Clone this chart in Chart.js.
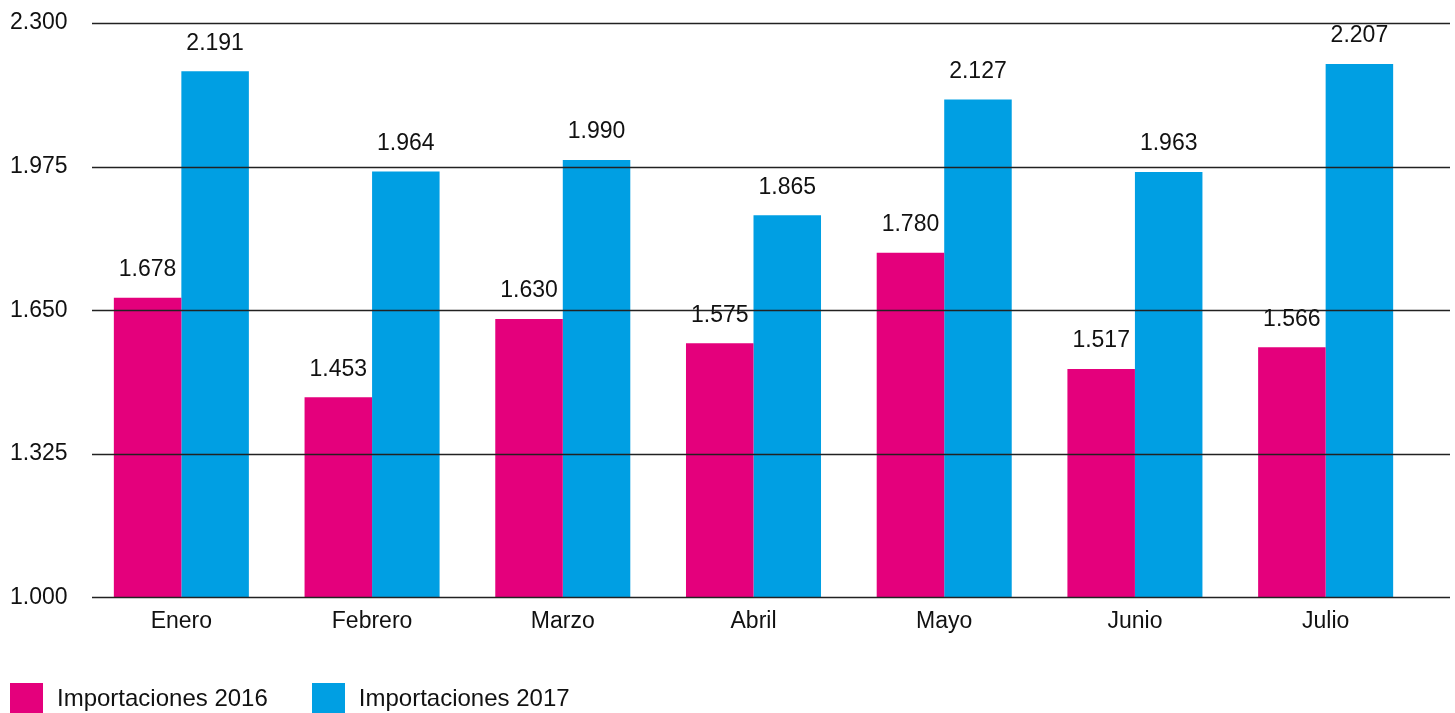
<!DOCTYPE html>
<html lang="es">
<head>
<meta charset="utf-8">
<title>Importaciones 2016 - 2017</title>
<script src="https://cdn.jsdelivr.net/npm/chart.js@4/dist/chart.umd.min.js"></script>
<style>
    html, body { margin: 0; padding: 0; background: #fff; }
    #wrap { position: relative; width: 1455px; height: 713px; }
    #legend {
        position: absolute; left: 10px; top: 683px;
        display: flex; align-items: center;
        font-family: "Liberation Sans", Arial, sans-serif; font-size: 24px; color: #111;
    }
    .item { display: flex; align-items: center; }
    .item + .item { margin-left: 44px; }
    .box { width: 33px; height: 30px; margin-right: 14px; }
    .item span { line-height: 30px; }
</style>
</head>
<body>
<div id="wrap">
    <canvas id="grafico" width="1455" height="713"></canvas>
    <div id="legend"></div>
</div>
<script>
// Data
const meses = ['Enero', 'Febrero', 'Marzo', 'Abril', 'Mayo', 'Junio', 'Julio'];
const importaciones2016 = [1678, 1453, 1630, 1575, 1780, 1517, 1566];
const importaciones2017 = [2191, 1964, 1990, 1865, 2127, 1963, 2207];
const series = ['Importaciones 2016', 'Importaciones 2017'];
const colores = ['#e4007c', '#009fe3'];

const fuente = '"Liberation Sans", Arial, sans-serif';

// 1678 -> "1.678"
function formato(n) {
    return String(n).replace(/\B(?=(\d{3})+(?!\d))/g, '.');
}

// Grid lines over the bars + value labels above them
const extrasPlugin = {
    id: 'extras',
    afterDatasetsDraw(chart) {
        const ctx = chart.ctx;
        const yScale = chart.scales.y;
        ctx.save();
        ctx.strokeStyle = '#222';
        ctx.lineWidth = 1.4;
        yScale.ticks.forEach(t => {
            const y = Math.round(yScale.getPixelForValue(t.value)) + 0.5;
            ctx.beginPath();
            ctx.moveTo(chart.chartArea.left + 6, y);
            ctx.lineTo(chart.width - 5, y);
            ctx.stroke();
        });

        ctx.fillStyle = '#111';
        ctx.font = '23px ' + fuente;
        ctx.textAlign = 'center';
        ctx.textBaseline = 'middle';
        chart.data.datasets.forEach((ds, i) => {
            chart.getDatasetMeta(i).data.forEach((bar, j) => {
                ctx.fillText(formato(ds.data[j]), bar.x, bar.y - 28);
            });
        });
        ctx.restore();
    }
};

const ctx = document.getElementById('grafico').getContext('2d');
const grafico = new Chart(ctx, {
    type: 'bar',
    data: {
        labels: meses,
        datasets: [
            {
                label: series[0],
                data: importaciones2016,
                backgroundColor: colores[0],
                categoryPercentage: 0.708,
                barPercentage: 1
            },
            {
                label: series[1],
                data: importaciones2017,
                backgroundColor: colores[1],
                categoryPercentage: 0.708,
                barPercentage: 1
            }
        ]
    },
    options: {
        responsive: false,
        animation: false,
        layout: {
            padding: { top: 23, right: 34, bottom: 68, left: 10 }
        },
        plugins: {
            legend: { display: false },
            tooltip: { enabled: false }
        },
        scales: {
            x: {
                grid: { display: false, drawTicks: false },
                border: { display: false },
                ticks: {
                    color: '#111',
                    padding: 10,
                    font: { size: 23, family: fuente }
                }
            },
            y: {
                min: 1000,
                max: 2300,
                grid: { display: false, drawTicks: false },
                border: { display: false },
                afterFit: (axis) => { axis.width = 76; },
                ticks: {
                    stepSize: 325,
                    color: '#111',
                    padding: 5,
                    crossAlign: 'far',
                    font: { size: 23, family: fuente },
                    callback: (value) => formato(value)
                }
            }
        }
    },
    plugins: [extrasPlugin]
});

// HTML legend
const legend = document.getElementById('legend');
series.forEach((nombre, i) => {
    const item = document.createElement('div');
    item.className = 'item';
    item.innerHTML = `<div class="box" style="background:${colores[i]}"></div><span>${nombre}</span>`;
    legend.appendChild(item);
});
</script>
</body>
</html>
